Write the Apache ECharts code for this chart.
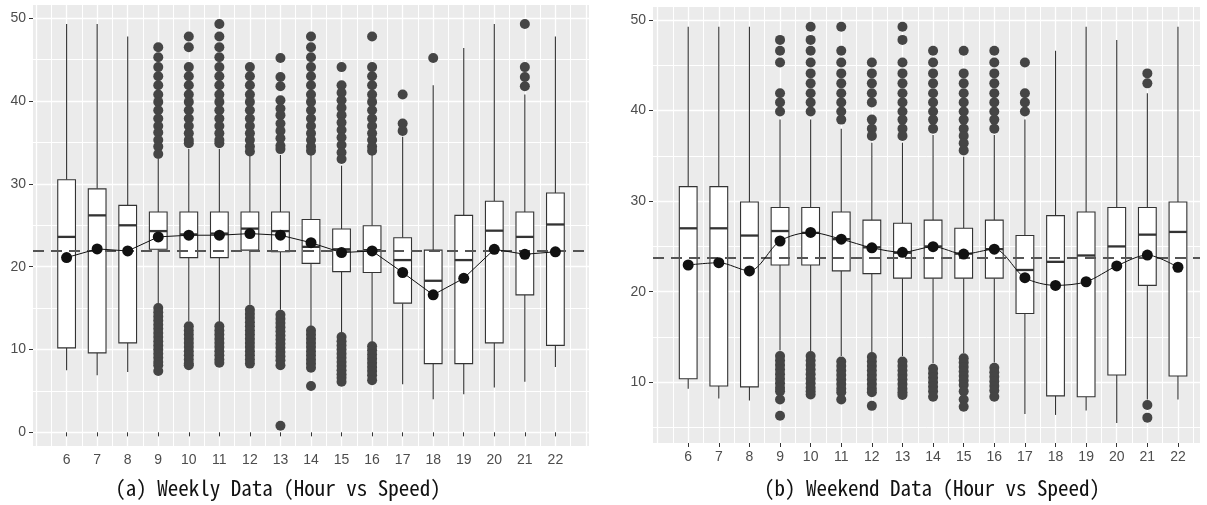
<!DOCTYPE html>
<html>
<head>
<meta charset="utf-8">
<script src="https://cdn.jsdelivr.net/npm/echarts@6/dist/echarts.min.js"></script>
<style>
  html, body { margin: 0; padding: 0; background: #ffffff; }
  #chart { width: 1207px; height: 505px; }
</style>
</head>
<body>
<div id="chart"></div>
<script>
// Hour of day on the x axis
const hours = [6, 7, 8, 9, 10, 11, 12, 13, 14, 15, 16, 17, 18, 19, 20, 21, 22];
const weeklyYTicks = [0, 10, 20, 30, 40, 50];
const weekendYTicks = [10, 20, 30, 40, 50];

// Weekday speeds: [lower whisker, Q1, median, Q3, upper whisker] per hour
const weeklyBoxes = [
  [7.5, 10.2, 23.6, 30.5, 49.3],
  [6.9, 9.6, 26.2, 29.4, 49.3],
  [7.3, 10.8, 25.0, 27.4, 47.8],
  [15.5, 22.1, 24.3, 26.6, 33.0],
  [13.4, 21.1, 23.9, 26.6, 34.2],
  [13.3, 21.1, 24.0, 26.6, 34.2],
  [15.4, 22.0, 24.6, 26.6, 33.5],
  [14.8, 21.8, 24.3, 26.6, 33.5],
  [12.8, 20.4, 22.4, 25.7, 33.5],
  [12.0, 19.4, 22.1, 24.55, 32.2],
  [10.9, 19.3, 22.0, 24.95, 33.5],
  [5.8, 15.6, 20.8, 23.5, 35.7],
  [4.0, 8.3, 18.3, 22.0, 41.9],
  [4.6, 8.3, 20.8, 26.2, 46.4],
  [5.4, 10.8, 24.35, 27.9, 49.3],
  [6.1, 16.6, 23.6, 26.6, 40.8],
  [7.9, 10.5, 25.1, 28.9, 47.8]
];
const weeklyMeans = [21.1, 22.15, 21.9, 23.6, 23.8, 23.8, 24.0, 23.8, 22.9, 21.7, 21.9, 19.3, 16.6, 18.6, 22.1, 21.5, 21.8];
const weeklyOverallMean = 21.9;
const weeklyOutliers = [
  [],
  [],
  [],
  [46.5, 45.3, 44.1, 43.0, 41.9, 40.8, 39.9, 38.9, 37.9, 37.0, 36.2, 35.3, 34.5, 33.6,
   15.0, 14.5, 14.0, 13.5, 13.0, 12.5, 12.0, 11.5, 11.0, 10.5, 10.0, 9.5, 9.0, 8.5, 8.1, 7.4],
  [47.8, 46.5, 44.1, 43.0, 41.9, 40.8, 39.9, 38.9, 37.9, 37.0, 36.1, 35.3, 34.9,
   12.8, 12.3, 11.8, 11.3, 10.8, 10.3, 9.8, 9.3, 8.8, 8.3, 8.1],
  [49.3, 47.8, 46.5, 45.3, 44.1, 43.0, 41.9, 40.8, 39.9, 38.9, 37.9, 37.0, 36.1, 35.3, 34.9,
   12.8, 12.3, 11.8, 11.3, 10.8, 10.3, 9.8, 9.3, 8.8, 8.4],
  [44.1, 43.0, 41.9, 40.8, 39.9, 38.9, 37.9, 37.0, 36.1, 35.3, 34.5, 33.9,
   14.8, 14.3, 13.8, 13.3, 12.8, 12.3, 11.8, 11.3, 10.8, 10.3, 9.8, 9.3, 8.8, 8.3],
  [45.2, 42.9, 41.8, 40.1, 39.1, 38.3, 37.3, 36.4, 35.5, 34.6, 34.2,
   14.2, 13.7, 13.2, 12.7, 12.2, 11.7, 11.2, 10.7, 10.2, 9.7, 9.2, 8.7, 8.1, 0.8],
  [47.8, 46.5, 45.3, 44.1, 43.0, 41.9, 40.8, 39.9, 38.9, 37.9, 37.0, 36.1, 35.3, 34.5, 34.0,
   12.3, 11.8, 11.3, 10.8, 10.3, 9.8, 9.3, 8.8, 8.3, 7.8, 5.6],
  [44.1, 41.9, 41.0, 40.1, 39.2, 38.3, 37.4, 36.5, 35.6, 34.7, 33.8, 33.0,
   11.5, 11.0, 10.5, 10.0, 9.5, 9.0, 8.5, 8.0, 7.5, 7.0, 6.6, 6.1],
  [47.8, 44.1, 43.0, 41.9, 40.8, 39.9, 38.9, 37.9, 37.0, 36.1, 35.3, 34.5, 34.0,
   10.4, 9.9, 9.4, 8.9, 8.4, 7.9, 7.4, 6.9, 6.3],
  [40.8, 37.3, 36.4],
  [45.2],
  [],
  [],
  [49.3, 44.1, 42.9, 41.8],
  []
];

// Weekend speeds: [lower whisker, Q1, median, Q3, upper whisker] per hour
const weekendBoxes = [
  [9.3, 10.4, 27.0, 31.6, 49.25],
  [8.2, 9.6, 27.0, 31.6, 49.25],
  [8.0, 9.5, 26.2, 29.9, 49.25],
  [13.5, 22.95, 26.7, 29.3, 39.0],
  [13.4, 22.95, 26.5, 29.3, 39.0],
  [12.9, 22.3, 25.8, 28.8, 38.0],
  [13.3, 22.0, 24.9, 27.9, 36.45],
  [12.9, 21.5, 24.3, 27.55, 36.45],
  [12.1, 21.5, 25.0, 27.9, 37.3],
  [13.2, 21.5, 24.2, 27.0, 34.9],
  [12.2, 21.5, 24.7, 27.9, 37.3],
  [6.5, 17.6, 22.4, 26.2, 39.0],
  [6.4, 8.5, 23.3, 28.4, 46.6],
  [6.9, 8.4, 24.0, 28.8, 49.25],
  [5.5, 10.8, 25.0, 29.3, 47.8],
  [8.1, 20.7, 26.3, 29.3, 41.9],
  [8.1, 10.7, 26.6, 29.9, 49.25]
];
const weekendMeans = [22.95, 23.2, 22.3, 25.6, 26.55, 25.8, 24.85, 24.35, 24.97, 24.16, 24.7, 21.55, 20.7, 21.1, 22.85, 24.05, 22.7];
const weekendOverallMean = 23.7;
const weekendOutliers = [
  [],
  [],
  [],
  [47.8, 46.6, 45.3, 41.9, 40.9, 39.9,
   12.9, 12.4, 11.9, 11.4, 10.9, 10.4, 9.9, 9.4, 9.0, 8.1, 6.3],
  [49.25, 47.8, 46.6, 45.3, 44.1, 43.0, 41.9, 40.9, 39.9,
   12.9, 12.4, 11.9, 11.4, 10.9, 10.4, 9.9, 9.4, 9.0, 8.65],
  [49.25, 46.6, 45.3, 44.1, 43.0, 41.9, 40.9, 39.9, 39.0,
   12.3, 11.8, 11.3, 10.8, 10.3, 9.8, 9.3, 8.9, 8.1],
  [45.3, 44.1, 43.0, 41.9, 40.9, 39.0, 38.0, 37.2,
   12.8, 12.3, 11.8, 11.3, 10.8, 10.3, 9.8, 9.3, 8.9, 7.4],
  [49.25, 47.8, 45.3, 44.1, 43.0, 41.9, 40.9, 39.9, 39.0, 38.0, 37.2,
   12.3, 11.8, 11.3, 10.8, 10.3, 9.8, 9.3, 8.9, 8.6],
  [46.6, 45.3, 44.1, 43.0, 41.9, 40.9, 39.9, 39.0, 38.0,
   11.5, 11.0, 10.5, 10.0, 9.5, 9.0, 8.4],
  [46.6, 44.1, 43.0, 41.9, 40.9, 39.9, 39.0, 38.0, 37.2, 36.4, 35.6,
   12.65, 12.2, 11.7, 11.2, 10.7, 10.2, 9.7, 9.0, 8.1, 7.3],
  [46.6, 45.3, 44.1, 43.0, 41.9, 40.9, 39.9, 39.0, 38.0,
   11.6, 11.1, 10.6, 10.1, 9.6, 9.1, 8.4],
  [45.3, 41.9, 40.9, 39.9],
  [],
  [],
  [],
  [44.1, 43.0, 7.5, 6.1],
  []
];

const panelTitles = ['(a) Weekly Data (Hour vs Speed)', '(b) Weekend Data (Hour vs Speed)'];

// ---- drawing ----
const AXIS_FONT = "'Liberation Sans', Arial, sans-serif";
const TITLE_FONT = "'Noto Sans Mono CJK KR', 'DejaVu Sans Mono', monospace";
const EDGE = '#333333';
const BOX_HALF = 0.29; // half box width in hour units

function renderBox(params, api) {
  const x = api.value(0);
  const pLo = api.coord([x, api.value(1)]);
  const pQ1 = api.coord([x, api.value(2)]);
  const pMd = api.coord([x, api.value(3)]);
  const pQ3 = api.coord([x, api.value(4)]);
  const pHi = api.coord([x, api.value(5)]);
  const half = api.size([BOX_HALF, 0])[0];
  const cx = pMd[0];
  const thin = { stroke: EDGE, lineWidth: 1.1 };
  return {
    type: 'group',
    children: [
      { type: 'line', shape: { x1: cx, y1: pHi[1], x2: cx, y2: pQ3[1] }, style: thin },
      { type: 'line', shape: { x1: cx, y1: pQ1[1], x2: cx, y2: pLo[1] }, style: thin },
      { type: 'rect', shape: { x: cx - half, y: pQ3[1], width: 2 * half, height: pQ1[1] - pQ3[1] },
        style: { fill: '#ffffff', stroke: EDGE, lineWidth: 1.1 } },
      { type: 'line', shape: { x1: cx - half, y1: pMd[1], x2: cx + half, y2: pMd[1] },
        style: { stroke: EDGE, lineWidth: 2.3 } }
    ]
  };
}

const panels = [
  { grid: { left: 33, top: 5, width: 556, height: 441 }, xMin: 4.9, xMax: 23.1, yMin: -1.65, yMax: 51.6,
    yTicks: weeklyYTicks, boxes: weeklyBoxes, means: weeklyMeans, overall: weeklyOverallMean,
    outliers: weeklyOutliers, smooth: false },
  { grid: { left: 653, top: 7, width: 547, height: 436 }, xMin: 4.85, xMax: 22.72, yMin: 3.3, yMax: 51.43,
    yTicks: weekendYTicks, boxes: weekendBoxes, means: weekendMeans, overall: weekendOverallMean,
    outliers: weekendOutliers, smooth: 0.3 }
];

const grids = [], xAxes = [], yAxes = [], series = [];

panels.forEach((p, gi) => {
  grids.push(Object.assign({ show: true, backgroundColor: '#EBEBEB', borderWidth: 0 }, p.grid));

  // labelled axes
  xAxes.push({
    gridIndex: gi, type: 'value', min: p.xMin, max: p.xMax,
    axisLine: { show: false },
    axisTick: { show: true, length: 4, customValues: hours, lineStyle: { color: EDGE, width: 1 } },
    axisLabel: { customValues: hours, color: '#4D4D4D', fontSize: 14, fontFamily: AXIS_FONT, margin: 7 },
    splitLine: { show: false }
  });
  yAxes.push({
    gridIndex: gi, type: 'value', min: p.yMin, max: p.yMax,
    axisLine: { show: false },
    axisTick: { show: true, length: 4, customValues: p.yTicks, lineStyle: { color: EDGE, width: 1 } },
    axisLabel: { customValues: p.yTicks, color: '#4D4D4D', fontSize: 14, fontFamily: AXIS_FONT, margin: 7 },
    splitLine: { show: false }
  });
  // grid-line axes
  xAxes.push({
    gridIndex: gi, type: 'value', min: p.xMin, max: p.xMax, minInterval: 1, maxInterval: 1,
    axisLine: { show: false }, axisTick: { show: false }, axisLabel: { show: false },
    splitLine: { show: true, showMinLine: false, showMaxLine: false, lineStyle: { color: '#ffffff', width: 1.3 } },
    minorTick: { show: false, splitNumber: 2 },
    minorSplitLine: { show: true, lineStyle: { color: '#ffffff', width: 1 } }
  });
  yAxes.push({
    gridIndex: gi, type: 'value', min: p.yMin, max: p.yMax, minInterval: 10, maxInterval: 10,
    axisLine: { show: false }, axisTick: { show: false }, axisLabel: { show: false },
    splitLine: { show: true, showMinLine: false, showMaxLine: false, lineStyle: { color: '#ffffff', width: 1.3 } },
    minorTick: { show: false, splitNumber: 2 },
    minorSplitLine: { show: true, lineStyle: { color: '#ffffff', width: 1 } }
  });

  const xi = gi * 2, yi = gi * 2;

  series.push({
    type: 'custom', xAxisIndex: xi, yAxisIndex: yi, z: 2,
    renderItem: renderBox,
    encode: { x: 0, y: [1, 2, 3, 4, 5] },
    data: hours.map((h, i) => [h].concat(p.boxes[i]))
  });

  series.push({
    type: 'scatter', xAxisIndex: xi, yAxisIndex: yi, z: 3,
    symbol: 'circle', symbolSize: 10,
    itemStyle: { color: '#454545', opacity: 1 },
    data: hours.flatMap((h, i) => p.outliers[i].map(v => [h, v])),
    markLine: {
      silent: true, symbol: 'none', label: { show: false },
      lineStyle: { color: '#555555', width: 2, type: [11, 7], opacity: 1 },
      data: [{ yAxis: p.overall }]
    }
  });

  series.push({
    type: 'line', xAxisIndex: xi, yAxisIndex: yi, z: 5,
    smooth: p.smooth,
    symbol: 'circle', symbolSize: 11,
    itemStyle: { color: '#111111', opacity: 1 },
    lineStyle: { color: '#111111', width: 1 },
    data: hours.map((h, i) => [h, p.means[i]])
  });
});

const chart = echarts.init(document.getElementById('chart'), null, { renderer: 'canvas' });
chart.setOption({
  animation: false,
  backgroundColor: '#ffffff',
  grid: grids,
  xAxis: xAxes,
  yAxis: yAxes,
  series: series,
  graphic: [
    { type: 'text', x: 278, y: 488, style: { text: panelTitles[0], align: 'center', verticalAlign: 'middle',
      font: "21px " + TITLE_FONT, fill: '#111111' } },
    { type: 'text', x: 932, y: 488, style: { text: panelTitles[1], align: 'center', verticalAlign: 'middle',
      font: "21px " + TITLE_FONT, fill: '#111111' } }
  ]
});
</script>
</body>
</html>
